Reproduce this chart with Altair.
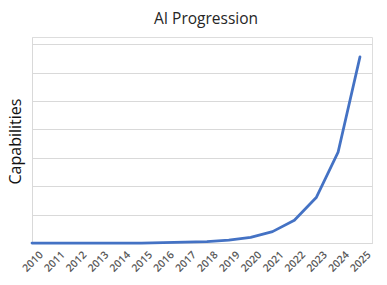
import altair as alt
import pandas as pd

years = list(range(2010, 2026))
capabilities = [0, 0, 0, 0, 0, 0, 0.01, 0.03, 0.05, 0.1, 0.2, 0.4, 0.8, 1.6, 3.2, 6.55]
grid_values = [0, 1, 2, 3, 4, 5, 6, 7]

df = pd.DataFrame({"year": years, "cap": capabilities})

chart = (
    alt.Chart(df)
    .mark_line(color="#4472C4", strokeWidth=2.75, strokeCap="round", strokeJoin="round")
    .encode(
        x=alt.X(
            "year:Q",
            scale=alt.Scale(domain=[2010, 2025.55], nice=False, zero=False),
            axis=alt.Axis(
                values=years,
                format="d",
                labelAngle=-45,
                labelAlign="right",
                labelBaseline="middle",
                labelPadding=10,
                labelOffset=9,
                labelFont="Open Sans",
                labelFontSize=10.5,
                labelColor="#595959",
                labelFontWeight=600,
                ticks=False,
                grid=False,
                domainColor="#d9d9d9",
                title=None,
                labelOverlap=False,
                labelBound=False,
                labelFlush=False,
            ),
        ),
        y=alt.Y(
            "cap:Q",
            scale=alt.Scale(domain=[0, 7.25], nice=False),
            axis=alt.Axis(
                values=grid_values,
                labels=False,
                ticks=False,
                grid=True,
                gridColor="#d9d9d9",
                gridWidth=1,
                domainColor="#d9d9d9",
                title="Capabilities",
                titleFont="Open Sans",
                titleFontSize=16,
                titleFontWeight="normal",
                titleColor="#111111",
                titleAngle=-90,
                titleX=-12,
                titleY=104,
                titleAlign="center",
                titleBaseline="alphabetic",
            ),
        ),
    )
    .properties(
        width=340,
        height=206,
        title=alt.TitleParams(
            "AI Progression",
            font="Open Sans",
            fontSize=15.5,
            fontWeight="normal",
            color="#262626",
            anchor="middle",
            frame="group",
            offset=10,
            dx=4,
        ),
        autosize=alt.AutoSizeParams(type="none"),
        padding={"left": 32, "top": 37, "right": 15, "bottom": 42},
    )
    .configure_view(stroke=None)
    .configure(background="white")
)

chart.save("out.html", embed_options={"renderer": "svg", "actions": False})
